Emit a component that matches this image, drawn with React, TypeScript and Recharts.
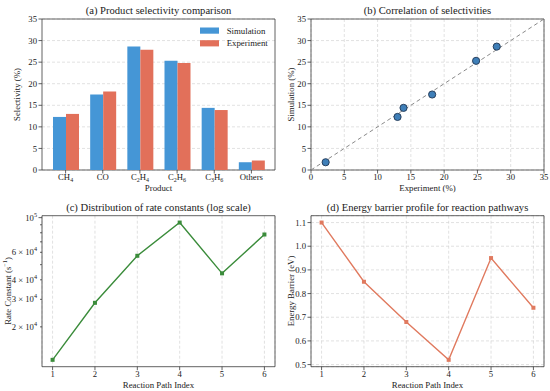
import React from 'react';
import {
  ComposedChart,
  ScatterChart,
  LineChart,
  Bar,
  Line,
  Scatter,
  XAxis,
  YAxis,
  CartesianGrid,
  ReferenceArea,
  ReferenceLine,
} from 'recharts';

// ---------------- data ----------------
const products = ['CH₄', 'CO', 'C₂H₄', 'C₂H₆', 'C₃H₆', 'Others'];
const simulation = [12.3, 17.5, 28.6, 25.3, 14.4, 1.8];
const experiment = [13.0, 18.2, 27.9, 24.8, 13.9, 2.2];
const selectivityTicks = [0, 5, 10, 15, 20, 25, 30, 35];

const pathIndex = [1, 2, 3, 4, 5, 6];
const rateConstants = [12300, 28500, 57000, 93000, 44000, 78000];
const rateTicks = [20000, 30000, 40000, 50000, 60000, 70000, 80000, 90000, 100000];
const rateTickMantissa: Record<number, string> = {
  20000: '2 × 10',
  30000: '3 × 10',
  40000: '4 × 10',
  60000: '6 × 10',
  100000: '10',
};
const rateTickExponent: Record<number, string> = {
  20000: '4',
  30000: '4',
  40000: '4',
  60000: '4',
  100000: '5',
};
const majorRateTicks = [100000];

const energyBarriers = [1.1, 0.85, 0.68, 0.52, 0.95, 0.74];
const energyTicks = [0.5, 0.6, 0.7, 0.8, 0.9, 1.0, 1.1];

// ---------------- styling ----------------
const FONT = '"Liberation Serif", "DejaVu Serif", "Times New Roman", serif';
const TEXT = '#1a1a1a';
const AXIS = '#3a3a3a';
const GRID = '#d4d4d4';
const SIM_COLOR = '#4596d6';
const EXP_COLOR = '#e2705a';
const SCATTER_FILL = '#3f7fb8';
const SCATTER_EDGE = '#1f3552';
const GREEN = '#3b8c3b';
const SALMON = '#e07a5f';
const TICK_FS = 8.7;
const LABEL_FS = 8.8;
const TITLE_FS = 10.6;
const TICK_SIZE = 3.5;
const TICK_MARGIN = 1.5;
const tickStyle = { fontSize: TICK_FS, fill: TEXT, fontFamily: FONT };

// matplotlib-like 5% autoscale margins
const linMargin = (lo: number, hi: number): [number, number] => {
  const r = hi - lo;
  return [lo - 0.05 * r, hi + 0.05 * r];
};
const logMargin = (lo: number, hi: number): [number, number] => {
  const a = Math.log10(lo);
  const b = Math.log10(hi);
  const r = b - a;
  return [Math.pow(10, a - 0.05 * r), Math.pow(10, b + 0.05 * r)];
};

const BAR_W = 0.35;
const barDomain = linMargin(-BAR_W, products.length - 1 + BAR_W);
const pathDomain = linMargin(Math.min(...pathIndex), Math.max(...pathIndex));
const rateDomain = logMargin(Math.min(...rateConstants), Math.max(...rateConstants));
const energyDomain = linMargin(Math.min(...energyBarriers), Math.max(...energyBarriers));

const barData = products.map((p, i) => ({ idx: i, name: p, sim: simulation[i], exp: experiment[i] }));
const scatterData = products.map((p, i) => ({ x: experiment[i], y: simulation[i] }));
const rateData = pathIndex.map((p, i) => ({ x: p, k: rateConstants[i] }));
const energyData = pathIndex.map((p, i) => ({ x: p, e: energyBarriers[i] }));

const SUBS: Record<string, string> = {
  '₀': '0', '₁': '1', '₂': '2', '₃': '3', '₄': '4', '₅': '5', '₆': '6', '₇': '7', '₈': '8', '₉': '9',
};

function ProductTick(props: any) {
  const { x, y, payload } = props;
  const label: string = products[payload.value] ?? '';
  const segs: { t: string; sub: boolean }[] = [];
  for (const ch of label) {
    const sub = ch in SUBS;
    const c = sub ? SUBS[ch] : ch;
    const last = segs[segs.length - 1];
    if (last && last.sub === sub) last.t += c;
    else segs.push({ t: c, sub });
  }
  let shifted = false;
  return (
    <text x={x} y={y + 6.4} textAnchor="middle" fontSize={TICK_FS} fill={TEXT} fontFamily={FONT}>
      {segs.map((s, i) => {
        let dy = 0;
        if (s.sub && !shifted) { dy = 2; shifted = true; }
        else if (!s.sub && shifted) { dy = -2; shifted = false; }
        return (
          <tspan key={i} dy={dy} fontSize={s.sub ? 6 : TICK_FS}>{s.t}</tspan>
        );
      })}
    </text>
  );
}

function RateTick(props: any) {
  const { x, y, payload } = props;
  const v: number = payload.value;
  const axisX = x + TICK_SIZE + TICK_MARGIN;
  const len = majorRateTicks.includes(v) ? 3.5 : 2;
  const m = rateTickMantissa[v];
  return (
    <g>
      <line x1={axisX} x2={axisX - len} y1={y} y2={y} stroke={AXIS} strokeWidth={0.8} />
      {m && (
        <text x={axisX - 5} y={y + 3} textAnchor="end" fontSize={TICK_FS} fill={TEXT} fontFamily={FONT}>
          <tspan>{m}</tspan>
          <tspan dy={-4} fontSize={6.2}>{rateTickExponent[v]}</tspan>
        </text>
      )}
    </g>
  );
}

const SquareDot = (color: string) => (props: any) => {
  const { cx, cy, index } = props;
  if (cx == null || cy == null) return <g key={index} />;
  return <rect key={index} x={cx - 2} y={cy - 2} width={4} height={4} fill={color} />;
};

const CircleShape = (props: any) => {
  const { cx, cy } = props;
  return <circle cx={cx} cy={cy} r={3.6} fill={SCATTER_FILL} stroke={SCATTER_EDGE} strokeWidth={0.9} />;
};

const frame = { fill: 'none', stroke: AXIS, strokeWidth: 0.8, fillOpacity: 0 } as const;
const axisCommon = {
  axisLine: false,
  tickLine: { stroke: AXIS, strokeWidth: 0.8 },
  tickSize: TICK_SIZE,
  tickMargin: TICK_MARGIN,
  interval: 0 as const,
  tick: tickStyle,
};

export default function App() {
  return (
    <div style={{ position: 'absolute', left: 0, top: 0, width: 550, height: 391, background: '#fff', fontFamily: FONT }}>
      {/* (a) */}
      <div style={{ position: 'absolute', left: 0, top: 0 }}>
        <ComposedChart width={280} height={195} data={barData} margin={{ top: 19, right: 5, bottom: 0, left: 0 }} barGap={0}>
          <CartesianGrid vertical={false} stroke={GRID} strokeDasharray="3 2" strokeWidth={0.7} />
          <XAxis
            dataKey="idx"
            type="number"
            domain={barDomain}
            allowDataOverflow
            ticks={products.map((_, i) => i)}
            height={25}
            {...axisCommon}
            tickMargin={0.5}
            tick={<ProductTick />}
          />
          <YAxis domain={[0, 35]} ticks={selectivityTicks} width={42} allowDataOverflow {...axisCommon} />
          <Bar dataKey="sim" fill={SIM_COLOR} barSize={13} isAnimationActive={false} />
          <Bar dataKey="exp" fill={EXP_COLOR} barSize={13} isAnimationActive={false} />
          <ReferenceArea x1={barDomain[0]} x2={barDomain[1]} y1={0} y2={35} {...frame} ifOverflow="visible" />
        </ComposedChart>
      </div>

      {/* (b) */}
      <div style={{ position: 'absolute', left: 275, top: 0 }}>
        <ScatterChart width={275} height={195} margin={{ top: 19, right: 6, bottom: 0, left: 0 }}>
          <CartesianGrid stroke={GRID} strokeDasharray="3 2" strokeWidth={0.7} />
          <XAxis dataKey="x" type="number" domain={[0, 35]} ticks={selectivityTicks} allowDataOverflow height={25} {...axisCommon} tickMargin={0.5} />
          <YAxis dataKey="y" type="number" domain={[0, 35]} ticks={selectivityTicks} allowDataOverflow width={36} {...axisCommon} />
          <ReferenceLine
            segment={[{ x: 0, y: 0 }, { x: 35, y: 35 }]}
            stroke="#8a8a8a"
            strokeDasharray="4 3"
            strokeWidth={1}
          />
          <Scatter data={scatterData} shape={CircleShape} isAnimationActive={false} />
          <ReferenceArea x1={0} x2={35} y1={0} y2={35} {...frame} ifOverflow="visible" />
        </ScatterChart>
      </div>

      {/* (c) */}
      <div style={{ position: 'absolute', left: 0, top: 195 }}>
        <LineChart width={280} height={196} data={rateData} margin={{ top: 20.7, right: 5, bottom: 0, left: 0 }}>
          <CartesianGrid horizontal={false} stroke={GRID} strokeDasharray="3 2" strokeWidth={0.7} />
          <XAxis dataKey="x" type="number" domain={pathDomain} ticks={pathIndex} allowDataOverflow height={24.3} {...axisCommon} tickMargin={0.5} />
          <YAxis
            scale="log"
            type="number"
            domain={rateDomain}
            ticks={rateTicks}
            allowDataOverflow
            width={42}
            {...axisCommon}
            tickLine={false}
            tick={<RateTick />}
          />
          <Line dataKey="k" stroke={GREEN} strokeWidth={1.4} dot={SquareDot(GREEN)} isAnimationActive={false} />
          <ReferenceArea x1={pathDomain[0]} x2={pathDomain[1]} y1={rateDomain[0]} y2={rateDomain[1]} {...frame} ifOverflow="visible" />
        </LineChart>
      </div>

      {/* (d) */}
      <div style={{ position: 'absolute', left: 275, top: 195 }}>
        <LineChart width={275} height={196} data={energyData} margin={{ top: 20.7, right: 6, bottom: 0, left: 0 }}>
          <CartesianGrid stroke={GRID} strokeDasharray="3 2" strokeWidth={0.7} />
          <XAxis dataKey="x" type="number" domain={pathDomain} ticks={pathIndex} allowDataOverflow height={24.3} {...axisCommon} tickMargin={0.5} />
          <YAxis
            type="number"
            domain={energyDomain}
            ticks={energyTicks}
            allowDataOverflow
            width={36}
            {...axisCommon}
            tickFormatter={(v: number) => v.toFixed(1)}
          />
          <Line dataKey="e" stroke={SALMON} strokeWidth={1.4} dot={SquareDot(SALMON)} isAnimationActive={false} />
          <ReferenceArea x1={pathDomain[0]} x2={pathDomain[1]} y1={energyDomain[0]} y2={energyDomain[1]} {...frame} ifOverflow="visible" />
        </LineChart>
      </div>

      {/* titles, axis labels, legend */}
      <svg width={550} height={391} style={{ position: 'absolute', left: 0, top: 0, pointerEvents: 'none' }} fontFamily={FONT} fill={TEXT}>
        <text x={158.5} y={14} textAnchor="middle" fontSize={TITLE_FS}>(a) Product selectivity comparison</text>
        <text x={427.5} y={14} textAnchor="middle" fontSize={TITLE_FS}>(b) Correlation of selectivities</text>
        <text x={158.5} y={210.7} textAnchor="middle" fontSize={TITLE_FS}>(c) Distribution of rate constants (log scale)</text>
        <text x={427.5} y={210.7} textAnchor="middle" fontSize={TITLE_FS}>(d) Energy barrier profile for reaction pathways</text>

        <text x={158.5} y={190.5} textAnchor="middle" fontSize={LABEL_FS}>Product</text>
        <text x={427.5} y={190.5} textAnchor="middle" fontSize={LABEL_FS}>Experiment (%)</text>
        <text x={158.5} y={387.5} textAnchor="middle" fontSize={LABEL_FS}>Reaction Path Index</text>
        <text x={427.5} y={387.5} textAnchor="middle" fontSize={LABEL_FS}>Reaction Path Index</text>

        <text transform="translate(20,94.5) rotate(-90)" textAnchor="middle" fontSize={LABEL_FS}>Selectivity (%)</text>
        <text transform="translate(294,94.5) rotate(-90)" textAnchor="middle" fontSize={LABEL_FS}>Simulation (%)</text>
        <text transform="translate(10.5,291) rotate(-90)" textAnchor="middle" fontSize={LABEL_FS}>
          <tspan>Rate Constant (s</tspan>
          <tspan dy={-3.5} fontSize={6.2}>−1</tspan>
          <tspan dy={3.5}>)</tspan>
        </text>
        <text transform="translate(294,291) rotate(-90)" textAnchor="middle" fontSize={LABEL_FS}>Energy Barrier (eV)</text>

        <rect x={200} y={27.5} width={19} height={6.2} fill={SIM_COLOR} />
        <text x={226.7} y={33.6} fontSize={LABEL_FS}>Simulation</text>
        <rect x={200} y={40.2} width={19} height={6.2} fill={EXP_COLOR} />
        <text x={226.7} y={46.3} fontSize={LABEL_FS}>Experiment</text>
      </svg>
    </div>
  );
}
